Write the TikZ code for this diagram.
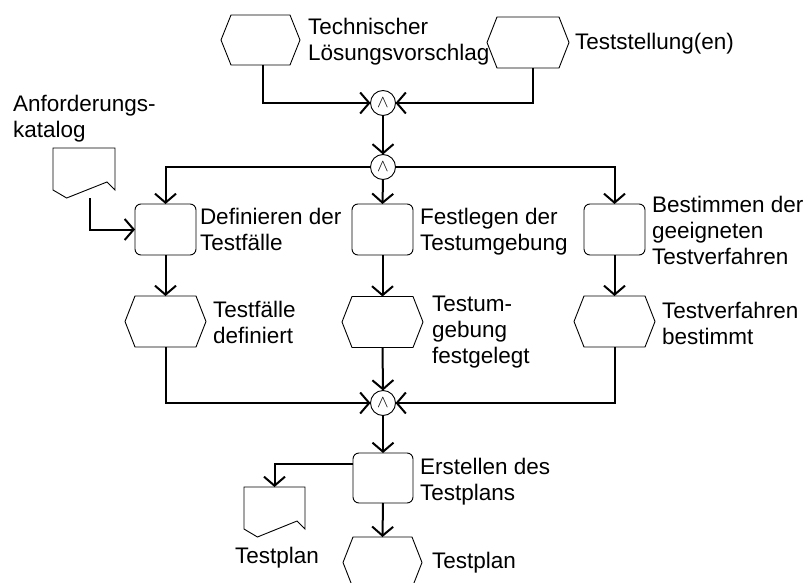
\documentclass[tikz,border=0pt]{standalone}
\usepackage{fontspec}
\setmainfont{Liberation Sans}
\usetikzlibrary{arrows.meta}

% scratch registers for the custom shapes
\newdimen\sxa \newdimen\sxb \newdimen\sya \newdimen\syb \newdimen\sym \newdimen\sxc

\makeatletter
% event: hexagon with pointed left and right sides
\pgfdeclareshape{hexbox}{%
  \inheritsavedanchors[from=rectangle]%
  \inheritanchorborder[from=rectangle]%
  \inheritanchor[from=rectangle]{center}%
  \inheritanchor[from=rectangle]{north}%
  \inheritanchor[from=rectangle]{south}%
  \inheritanchor[from=rectangle]{east}%
  \inheritanchor[from=rectangle]{west}%
  \inheritanchor[from=rectangle]{north west}%
  \inheritanchor[from=rectangle]{north east}%
  \inheritanchor[from=rectangle]{south west}%
  \inheritanchor[from=rectangle]{south east}%
  \backgroundpath{%
    \southwest \sxa=\pgf@x \sya=\pgf@y
    \northeast \sxb=\pgf@x \syb=\pgf@y
    \sym=.5\sya \advance\sym by .5\syb
    \pgfpathmoveto{\pgfqpoint{\sxa}{\sym}}%
    \advance\sxa by 10pt \advance\sxb by -10pt
    \pgfpathlineto{\pgfqpoint{\sxa}{\syb}}%
    \pgfpathlineto{\pgfqpoint{\sxb}{\syb}}%
    \advance\sxb by 10pt
    \pgfpathlineto{\pgfqpoint{\sxb}{\sym}}%
    \advance\sxb by -10pt
    \pgfpathlineto{\pgfqpoint{\sxb}{\sya}}%
    \pgfpathlineto{\pgfqpoint{\sxa}{\sya}}%
    \pgfpathclose
  }%
}
% document: rectangle with a zigzag lower edge
\pgfdeclareshape{docbox}{%
  \inheritsavedanchors[from=rectangle]%
  \inheritanchorborder[from=rectangle]%
  \inheritanchor[from=rectangle]{center}%
  \inheritanchor[from=rectangle]{north}%
  \inheritanchor[from=rectangle]{south}%
  \inheritanchor[from=rectangle]{east}%
  \inheritanchor[from=rectangle]{west}%
  \inheritanchor[from=rectangle]{north west}%
  \inheritanchor[from=rectangle]{north east}%
  \inheritanchor[from=rectangle]{south west}%
  \inheritanchor[from=rectangle]{south east}%
  \backgroundpath{%
    \southwest \sxa=\pgf@x \sya=\pgf@y
    \northeast \sxb=\pgf@x \syb=\pgf@y
    \sxc=\sxb \advance\sxc by -\sxa
    \sym=\sya \advance\sym by 8pt
    \pgfpathmoveto{\pgfqpoint{\sxa}{\sym}}%
    \pgfpathlineto{\pgfqpoint{\sxa}{\syb}}%
    \pgfpathlineto{\pgfqpoint{\sxb}{\syb}}%
    \pgfpathlineto{\pgfqpoint{\sxb}{\sym}}%
    % peak of the zigzag
    \advance\sym by 8pt
    \advance\sxb by -.13\sxc
    \pgfpathlineto{\pgfqpoint{\sxb}{\sym}}%
    % dip of the zigzag
    \sxb=\sxa \advance\sxb by .22\sxc
    \pgfpathlineto{\pgfqpoint{\sxb}{\sya}}%
    \pgfpathclose
  }%
}
\makeatother

\tikzset{
  lbl/.style={anchor=north west, align=left, inner sep=0pt, outer sep=0pt,
    font=\fontsize{22.5pt}{26pt}\selectfont},
  event/.style={hexbox, draw, line width=0.9pt, inner sep=0pt, outer sep=0pt,
    minimum width=81pt, minimum height=51pt},
  func/.style={rectangle, rounded corners=6pt, draw, line width=0.9pt,
    inner sep=0pt, outer sep=0pt, minimum width=61pt, minimum height=51pt},
  doc/.style={docbox, draw, line width=0.9pt, inner sep=0pt, outer sep=0pt,
    minimum width=62pt, minimum height=50pt},
  andop/.style={circle, draw, line width=0.9pt, inner sep=0pt, outer sep=0pt,
    minimum size=25pt, font=\fontsize{16pt}{16pt}\selectfont},
  flow/.style={line width=2pt,
    -{Straight Barb[length=9pt, width=21pt, line width=2pt]}},
}

\begin{document}
\begin{tikzpicture}[x=1pt, y=-1pt]
  \useasboundingbox[fill=white] (0,0) rectangle (805,583);

  % start events
  \node[event, minimum width=79pt, minimum height=50pt] (loes) at (260.5,40) {};
  \node[event, minimum width=82pt] (stell) at (528,42.5) {};
  \node[lbl] (tLoes) at (308,16.8) {\strut Technischer\\Lösungsvorschlag};
  \node[lbl] (tStell) at (575,31.8) {\strut Teststellung(en)};

  % AND connectors
  \node[andop] (and1) at (383,103) {$\wedge$};
  \node[andop] (and2) at (383,167) {$\wedge$};
  \node[andop] (and3) at (383,403) {$\wedge$};

  % input document
  \node[doc] (kat) at (84,173) {};
  \node[lbl] (tKat) at (13,93.8) {\strut Anforderungs-\\katalog};

  % functions
  \node[func] (def)  at (165.5,229.5) {};
  \node[func] (fest) at (382.5,229.5) {};
  \node[func] (best) at (614.5,229.5) {};
  \node[lbl] (tDef)  at (200,205.8) {\strut Definieren der\\Testfälle};
  \node[lbl] (tFest) at (420,205.8) {\strut Festlegen der\\Testumgebung};
  \node[lbl] (tBest) at (652,193.8) {\strut Bestimmen der\\geeigneten\\Testverfahren};

  % resulting events
  \node[event] (evDef)  at (165.5,321.5) {};
  \node[event] (evFest) at (382.5,322) {};
  \node[event] (evBest) at (614.5,321.5) {};
  \node[lbl] (tEvDef)  at (213,298.8) {\strut Testfälle\\definiert};
  \node[lbl] (tEvFest) at (432,292.8) {\strut Testum-\\gebung\\festgelegt};
  \node[lbl] (tEvBest) at (662,299.8) {\strut Testverfahren\\bestimmt};

  % final function, output document and end event
  \node[func, minimum width=60pt, minimum height=50pt] (erst) at (383,478) {};
  \node[lbl] (tErst) at (420,455.8) {\strut Erstellen des\\Testplans};
  \node[doc, minimum width=61pt] (plan) at (274.5,512) {};
  \node[lbl] (tPlan) at (235,544.8) {\strut Testplan};
  \node[event, minimum width=79pt] (evPlan) at (382.5,562.5) {};
  \node[lbl] (tEvPlan) at (432,549.8) {\strut Testplan};

  % control flow
  \draw[flow] ([xshift=2.5pt]loes.south) |- (and1.west);
  \draw[flow] ([xshift=5pt]stell.south) |- (and1.east);
  \draw[flow] (and1.south) -- (and2.north);
  \draw[flow] (and2.west) -| (def.north);
  \draw[flow] (and2.south) -- (fest.north);
  \draw[flow] (and2.east) -| (best.north);
  \draw[flow] ([xshift=6pt]kat.south) |- (def.west);
  \draw[flow] (def.south) -- (evDef.north);
  \draw[flow] (fest.south) -- (evFest.north);
  \draw[flow] (best.south) -- (evBest.north);
  \draw[flow] (evDef.south) |- (and3.west);
  \draw[flow] (evFest.south) -- (and3.north);
  \draw[flow] (evBest.south) |- (and3.east);
  \draw[flow] (and3.south) -- (erst.north);
  \draw[flow] ([yshift=14pt]erst.west) -| (plan.north);
  \draw[flow] (erst.south) -- (evPlan.north);
\end{tikzpicture}
\end{document}
